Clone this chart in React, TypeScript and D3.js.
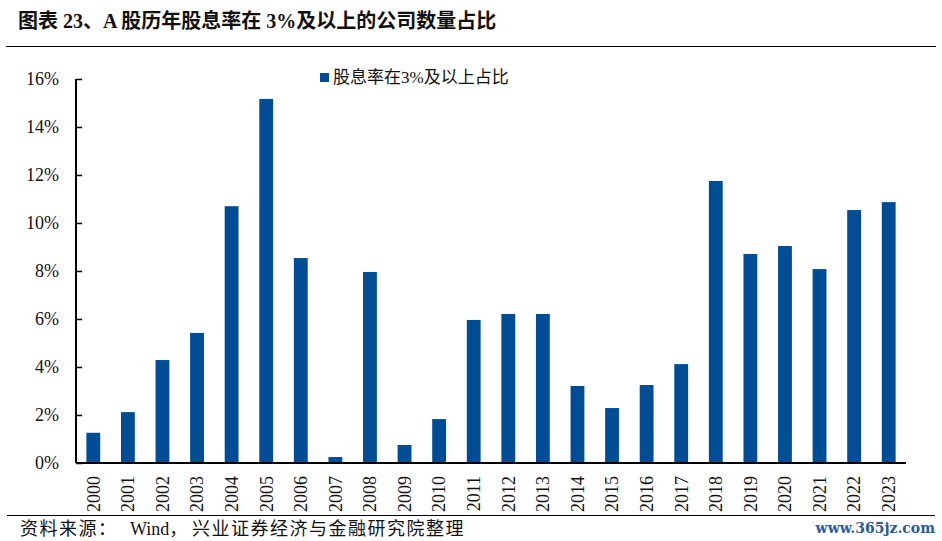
import React, { useEffect, useRef } from "react";
import * as d3 from "d3";

const years = [
  "2000", "2001", "2002", "2003", "2004", "2005", "2006", "2007",
  "2008", "2009", "2010", "2011", "2012", "2013", "2014", "2015",
  "2016", "2017", "2018", "2019", "2020", "2021", "2022", "2023"
];
// share of companies with dividend yield >= 3%, in %
const shareValues = [
  1.26, 2.12, 4.29, 5.42, 10.7, 15.17, 8.54, 0.25,
  7.96, 0.75, 1.83, 5.96, 6.21, 6.21, 3.21, 2.29,
  3.25, 4.12, 11.75, 8.71, 9.04, 8.08, 10.54, 10.87
];
const yTicks = [0, 2, 4, 6, 8, 10, 12, 14, 16];

const titleText = "图表 23、A 股历年股息率在 3%及以上的公司数量占比";
const legendText = "股息率在3%及以上占比";
const sourceParts = ["资料来源：", "Wind，", "兴业证券经济与金融研究院整理"];
const watermark = "www.365jz.com";

const FONT = "'Liberation Serif', 'Times New Roman', 'Noto Sans CJK SC', serif";
const BLUE = "#004D95";

function App() {
  const ref = useRef<SVGSVGElement>(null);

  useEffect(() => {
    const svg = d3.select(ref.current);
    svg.selectAll("*").remove();

    const left = 76,
      right = 906,
      top = 79,
      bottom = 463;

    // title + rules
    svg
      .append("text")
      .attr("x", 18)
      .attr("y", 28)
      .attr("font-family", FONT)
      .attr("font-weight", "bold")
      .attr("font-size", "20px")
      .attr("fill", "#111")
      .text(titleText);

    svg
      .append("line")
      .attr("x1", 6)
      .attr("x2", 936)
      .attr("y1", 46.5)
      .attr("y2", 46.5)
      .attr("stroke", "#000")
      .attr("stroke-width", 1.2);

    svg
      .append("line")
      .attr("x1", 7)
      .attr("x2", 935)
      .attr("y1", 515.5)
      .attr("y2", 515.5)
      .attr("stroke", "#000")
      .attr("stroke-width", 1.2);

    const xScale = d3
      .scaleBand()
      .domain(years)
      .range([left, right])
      .paddingInner(0.6)
      .paddingOuter(0.3);
    const yScale = d3.scaleLinear().domain([0, 16]).range([bottom, top]);

    const g = svg.append("g");

    // bars
    g.selectAll("rect")
      .data(years)
      .enter()
      .append("rect")
      .attr("x", (d) => xScale(d) as number)
      .attr("width", xScale.bandwidth())
      .attr("y", (d, i) => yScale(shareValues[i]))
      .attr("height", (d, i) => bottom - yScale(shareValues[i]))
      .attr("fill", BLUE);

    // y axis
    const yAxis = g
      .append("g")
      .attr("transform", "translate(" + left + ",0)")
      .call(
        d3
          .axisRight(yScale)
          .tickValues(yTicks)
          .tickSize(6)
          .tickFormat(() => "")
      );
    yAxis.select(".domain").attr("stroke", "#000").attr("stroke-width", 2).attr("d", "M0," + top + "V" + bottom);
    yAxis.selectAll(".tick line").attr("stroke", "#000").attr("stroke-width", 1.5);

    g.selectAll(".ylab")
      .data(yTicks)
      .enter()
      .append("text")
      .attr("class", "ylab")
      .attr("x", 59)
      .attr("y", (d) => yScale(d))
      .attr("dy", "0.35em")
      .attr("text-anchor", "end")
      .attr("font-family", FONT)
      .attr("font-size", "18px")
      .attr("fill", "#111")
      .text((d) => d + "%");

    // x axis
    const xAxis = g
      .append("g")
      .attr("transform", "translate(0," + bottom + ")")
      .call(d3.axisBottom(xScale).tickSize(0).tickFormat(() => ""));
    xAxis.select(".domain").attr("stroke", "#000").attr("stroke-width", 2).attr("d", "M" + left + ",0H" + right);

    g.selectAll(".xlab")
      .data(years)
      .enter()
      .append("text")
      .attr("class", "xlab")
      .attr(
        "transform",
        (d) => "translate(" + ((xScale(d) as number) + xScale.bandwidth() / 2) + "," + 476 + ") rotate(-90)"
      )
      .attr("dy", "0.35em")
      .attr("text-anchor", "end")
      .attr("font-family", FONT)
      .attr("font-size", "18px")
      .attr("fill", "#111")
      .text((d) => d);

    // legend
    svg
      .append("rect")
      .attr("x", 320)
      .attr("y", 73)
      .attr("width", 9)
      .attr("height", 9)
      .attr("fill", BLUE);
    svg
      .append("text")
      .attr("x", 333)
      .attr("y", 83)
      .attr("font-family", FONT)
      .attr("font-size", "17px")
      .attr("fill", "#111")
      .text(legendText);

    // source + watermark
    const src = svg
      .append("text")
      .attr("y", 535)
      .attr("font-family", FONT)
      .attr("font-size", "18px")
      .attr("fill", "#111");
    src.append("tspan").attr("x", 20).attr("letter-spacing", "1.5px").text(sourceParts[0]);
    src.append("tspan").attr("x", 130).text(sourceParts[1]);
    src.append("tspan").attr("x", 192).attr("letter-spacing", "1.5px").text(sourceParts[2]);

    svg
      .append("text")
      .attr("x", 935)
      .attr("y", 533)
      .attr("text-anchor", "end")
      .attr("font-family", "'DejaVu Serif', serif")
      .attr("font-size", "14px")
      .attr("font-weight", "bold")
      .attr("fill", "#2A5A9A")
      .text(watermark);
  }, []);

  return (
    <svg
      ref={ref}
      width={942}
      height={541}
      style={{ position: "absolute", left: 0, top: 0, background: "#fff" }}
    />
  );
}

export default App;
